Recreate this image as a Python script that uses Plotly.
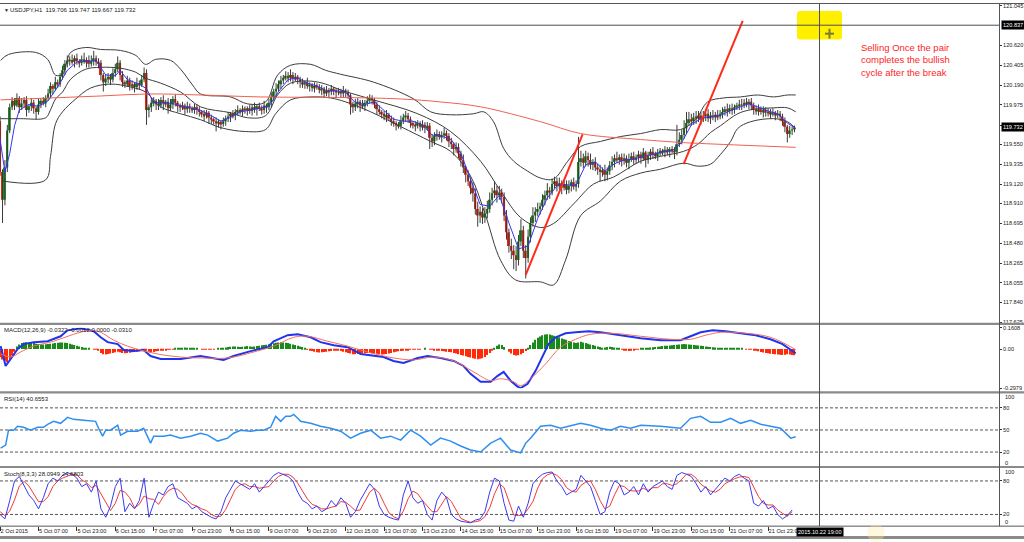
import plotly.graph_objects as go

W, H = 1024, 542

# ---------------- text ----------------
title_text = "USDJPY,H1  119.706 119.747 119.667 119.732"
macd_title = "MACD(12,26,9) -0.0322 -0.0012 0.0000 -0.0310"
rsi_title = "RSI(14) 40.6553"
stoch_title = "Stoch(8,3,3) 28.0949 24.6803"
note_lines = ["Selling Once the pair", "completes the bullish", "cycle after the break"]
cursor_time_label = "2015.10.22 19:00"

time_labels = ["2 Oct 2015", "5 Oct 07:00", "5 Oct 23:00", "6 Oct 15:00", "7 Oct 07:00",
               "7 Oct 23:00", "8 Oct 15:00", "9 Oct 07:00", "9 Oct 23:00", "12 Oct 15:00",
               "13 Oct 07:00", "13 Oct 23:00", "14 Oct 15:00", "15 Oct 07:00", "15 Oct 23:00",
               "16 Oct 15:00", "19 Oct 07:00", "19 Oct 23:00", "20 Oct 15:00", "21 Oct 07:00",
               "21 Oct 23:00"]
bars_per_label = 16

price_ticks = [121.045, 120.620, 120.405, 120.190, 119.975, 119.755, 119.550, 119.335,
               119.120, 118.910, 118.695, 118.480, 118.265, 118.055, 117.840, 117.625]
price_range = [117.6143, 121.0717]
cursor_price = 120.837
last_price = 119.732

# ---------------- H1 candles ----------------
first_open = 119.80
closes = [
    119.25, 118.95, 119.30, 119.70, 119.95,
    120.02, 119.97, 120.05, 119.95, 119.99, 120.03, 119.92, 119.96, 120.00, 119.94, 119.90, 119.98, 120.02, 119.99,
    120.05, 120.10, 120.18, 120.15, 120.22, 120.20, 120.28,
    120.35, 120.42, 120.45,
    120.46, 120.44, 120.48, 120.45, 120.43, 120.47, 120.44, 120.46, 120.42, 120.45, 120.48, 120.44, 120.43,
    120.30, 120.22, 120.26,
    120.28, 120.25, 120.32, 120.36,
    120.43,
    120.30, 120.22, 120.20,
    120.24, 120.18, 120.20, 120.17, 120.21, 120.19,
    120.25, 120.32,
    119.92,
    119.95, 120.00,
    120.02, 119.98, 119.97, 120.03, 119.99, 120.01, 119.94, 119.98, 120.04, 120.00, 119.96,
    119.95, 119.97, 119.93, 119.96, 119.94, 119.92, 119.95, 119.93,
    119.90, 119.88, 119.86, 119.89, 119.84, 119.82, 119.80, 119.78, 119.79,
    119.77, 119.80, 119.83, 119.85, 119.88, 119.86, 119.90, 119.92, 119.90, 119.93,
    119.92, 119.94, 119.91, 119.95, 119.93, 119.96, 119.94, 119.92, 119.97, 119.95,
    120.00, 120.06, 120.12, 120.15, 120.20, 120.24, 120.27,
    120.29, 120.27, 120.30, 120.26, 120.28, 120.25,
    120.22, 120.20, 120.22, 120.18, 120.19, 120.16, 120.18, 120.17,
    120.14, 120.15, 120.10, 120.13, 120.12, 120.15, 120.13, 120.11,
    120.12, 120.10, 120.13, 120.11, 120.08,
    119.98,
    119.95, 119.99, 120.01, 119.97, 119.96, 120.00, 120.02, 120.05, 120.03,
    119.98, 119.93, 119.90, 119.88, 119.85, 119.87, 119.83, 119.80, 119.78, 119.76, 119.75,
    119.80, 119.84, 119.86, 119.82,
    119.78, 119.76, 119.75, 119.78, 119.74, 119.76, 119.73, 119.75,
    119.62, 119.58,
    119.64, 119.66, 119.63, 119.65, 119.67, 119.64,
    119.58, 119.55, 119.50, 119.52,
    119.45, 119.38, 119.30, 119.22, 119.15, 119.08, 119.02,
    118.85, 118.78,
    118.82, 118.76, 118.80, 118.85,
    118.95, 119.02, 119.05, 119.00,
    119.03, 118.98,
    118.78, 118.60, 118.45,
    118.40, 118.35, 118.30,
    118.50, 118.62,
    118.40, 118.32,
    118.55, 118.70, 118.78, 118.82, 118.85, 118.88,
    118.95, 119.00, 119.05, 119.03,
    119.12, 119.15,
    119.10, 119.13, 119.08, 119.12, 119.06, 119.10, 119.14, 119.09, 119.12,
    119.36,
    119.40, 119.35, 119.42, 119.38, 119.33, 119.36, 119.30,
    119.28, 119.25, 119.27, 119.22, 119.26,
    119.32, 119.36, 119.40, 119.38, 119.41,
    119.37, 119.40, 119.35, 119.39, 119.42, 119.38, 119.41,
    119.44, 119.40, 119.46, 119.38, 119.43, 119.47, 119.45, 119.42, 119.46,
    119.48, 119.46, 119.49, 119.47, 119.50, 119.48, 119.47,
    119.55, 119.60,
    119.65, 119.72, 119.78, 119.82, 119.80, 119.84, 119.83,
    119.86, 119.82, 119.85, 119.88, 119.83, 119.86, 119.84, 119.87, 119.85,
    119.88, 119.90, 119.93, 119.91, 119.94, 119.92, 119.95, 119.96,
    119.98, 119.97, 120.00, 119.99, 120.01, 119.97,
    119.93, 119.91, 119.93, 119.90, 119.92, 119.89,
    119.90, 119.88, 119.89, 119.87, 119.88, 119.85,
    119.80, 119.74, 119.66, 119.70, 119.71, 119.732,
]
upper_wick_pips = [
    5, 3, 8, 6, 4,
    4, 3, 5, 2, 6, 3, 4, 2, 5, 3, 2, 6, 3, 4,
    3, 5, 4, 2, 6, 3, 4,
    5, 4, 6,
    4, 6, 3, 5, 2, 4, 7, 3, 5, 6, 8, 3, 4,
    3, 2, 5,
    4, 3, 5, 6,
    7,
    3, 4, 2,
    5, 3, 4, 2, 6, 3,
    5, 6,
    4,
    3, 5,
    4, 2, 6, 3, 5, 2, 4, 6, 3, 5, 2,
    3, 4, 2, 5, 3, 2, 4, 3,
    3, 2, 4, 3, 2, 3, 2, 4, 3,
    2, 4, 3, 5, 2, 4, 3, 5, 2, 4,
    3, 2, 4, 3, 5, 2, 4, 3, 5, 2,
    4, 5, 3, 6, 4, 5, 3,
    5, 4, 6, 3, 4, 2,
    3, 4, 2, 5, 3, 2, 4, 3,
    3, 4, 2, 5, 3, 4, 2, 3,
    4, 3, 5, 2, 3,
    2,
    3, 5, 4, 2, 6, 3, 5, 4, 3,
    2, 3, 4, 2, 3, 5, 2, 3, 4, 2, 3,
    6, 4, 5, 3,
    3, 2, 4, 3, 2, 5, 3, 4,
    3, 4,
    4, 5, 3, 4, 6, 3,
    3, 4, 2, 5,
    4, 3, 6, 2, 5, 4, 6,
    5, 8,
    6, 4, 7, 9,
    8, 6, 10, 5,
    7, 4,
    5, 6, 4,
    8, 6, 10,
    7, 12,
    5, 6,
    8, 6, 9, 5, 7, 4,
    6, 5, 8, 4,
    6, 5,
    4, 6, 3, 5, 4, 6, 3, 5, 4,
    27,
    8, 5, 6, 4, 7, 3, 5,
    4, 5, 3, 6, 4,
    5, 6, 4, 7, 3,
    4, 5, 3, 6, 4, 5, 3,
    4, 3, 5, 2, 4, 3, 5, 2, 4,
    3, 2, 4, 3, 2, 3, 4,
    21, 8,
    6, 9, 12, 8, 6, 5, 7,
    5, 4, 6, 3, 5, 4, 6, 3, 5,
    4, 5, 3, 6, 4, 5, 3, 4,
    5, 6, 4, 5, 3, 4,
    3, 4, 5, 3, 4, 3,
    4, 3, 5, 2, 4, 3,
    3, 4, 2, 5, 3, 2,
]
lower_wick_pips = [
    4, 25, 6, 5, 3,
    3, 5, 2, 6, 3, 4, 7, 3, 5, 6, 8, 3, 4, 2,
    4, 3, 5, 6, 2, 4, 3,
    3, 5, 4,
    5, 3, 6, 4, 5, 3, 2, 6, 4, 3, 5, 4, 6,
    6, 10, 4,
    5, 6, 3, 4,
    3,
    6, 5, 4,
    3, 5, 4, 6, 3, 5,
    2, 3,
    16,
    8, 5,
    4, 6, 5, 3, 7, 4, 6, 3, 5, 4, 6,
    5, 3, 6, 4, 5, 3, 4, 6,
    5, 4, 6, 3, 7, 5, 4, 9, 5,
    6, 3, 5, 4, 6, 3, 5, 4, 3, 5,
    4, 6, 3, 5, 4, 7, 3, 5, 4, 6,
    3, 5, 4, 6, 3, 5, 4,
    3, 5, 4, 6, 3, 5,
    6, 4, 5, 3, 6, 4, 5, 3,
    4, 6, 5, 3, 7, 4, 5, 6,
    3, 5, 4, 6, 4,
    11,
    6, 4, 5, 7, 3, 5, 4, 3, 5,
    4, 6, 3, 5, 4, 6, 3, 5, 4, 6, 3,
    4, 3, 5, 4,
    5, 4, 6, 3, 5, 4, 6, 3,
    12, 6,
    4, 5, 3, 6, 4, 5,
    6, 5, 7, 4,
    5, 7, 6, 8, 5, 7, 9,
    6, 12,
    8, 7, 6, 5,
    4, 6, 5, 8,
    5, 7,
    6, 8, 7,
    9, 15, 12,
    6, 5,
    8, 22,
    5, 6, 4, 7, 5, 6,
    4, 6, 5, 7,
    3, 5,
    6, 4, 7, 3, 5, 4, 6, 3, 5,
    4,
    5, 6, 4, 7, 5, 6, 4,
    6, 10, 5, 7, 6,
    4, 5, 6, 3, 5,
    6, 4, 5, 7, 3, 5, 4,
    5, 6, 3, 8, 4, 5, 6, 3, 5,
    4, 3, 5, 4, 6, 3, 8,
    4, 3,
    5, 4, 6, 3, 5, 4, 6,
    4, 6, 3, 5, 4, 6, 3, 5, 4,
    3, 5, 4, 6, 3, 5, 4, 3,
    4, 5, 3, 4, 6, 5,
    6, 4, 5, 3, 6, 4,
    4, 5, 3, 6, 4, 5,
    5, 6, 9, 4, 5, 3,
]

# ---------------- overlays on price (bar index, price) ----------------
fast_ma_bars = [0, 2, 4, 6, 8, 12, 16, 20, 24, 28, 32, 36, 40, 44, 48, 50, 53, 58, 61, 64, 68, 72, 76, 80, 84,
                88, 92, 96, 100, 104, 108, 112, 116, 120, 124, 128, 132, 136, 140, 144, 148, 152, 156, 160,
                164, 168, 172, 176, 180, 184, 188, 192, 196, 200, 204, 208, 212, 216, 220, 224, 228, 232,
                236, 240, 244, 248, 252, 256, 260, 264, 268, 272, 276, 280, 284, 288, 292, 296, 300, 304,
                308, 312, 316, 320, 324, 328, 331]
fast_ma = [119.60, 119.25, 119.45, 119.75, 119.92, 119.98, 119.96, 120.02, 120.17, 120.35, 120.44, 120.45,
           120.45, 120.30, 120.29, 120.35, 120.25, 120.20, 120.15, 120.00, 120.00, 119.99, 119.96, 119.94,
           119.91, 119.86, 119.80, 119.84, 119.90, 119.92, 119.94, 119.96, 120.12, 120.25, 120.27, 120.21,
           120.18, 120.13, 120.13, 120.11, 120.00, 119.98, 120.01, 119.91, 119.82, 119.80, 119.80, 119.76,
           119.65, 119.64, 119.60, 119.45, 119.18, 118.90, 118.88, 119.00, 118.70, 118.42, 118.45, 118.75,
           118.97, 119.10, 119.11, 119.11, 119.33, 119.36, 119.26, 119.34, 119.38, 119.39, 119.42, 119.44,
           119.47, 119.48, 119.57, 119.76, 119.83, 119.85, 119.86, 119.91, 119.95, 119.99, 119.95, 119.91,
           119.88, 119.78, 119.73]

slow_ma_bars = [0.2, 21, 41.9, 61.5, 83.5, 108.5, 141.9, 166.9, 183.5, 200.2, 225.2, 241.9, 266.9, 283.5, 291.9, 331.5]
slow_ma = [120.030, 120.051, 120.072, 120.094, 120.083, 120.062, 120.056, 120.040, 120.008, 119.955,
           119.794, 119.666, 119.602, 119.570, 119.559, 119.517]

band_up_bars = [0.2, 3.5, 14.8, 19.8, 23.1, 26, 29.4, 35.6, 41.9, 50.2, 56.5, 60.6, 64.8, 71, 75.2, 80.2, 83.5,
                96, 103.1, 110.6, 115.6, 121, 129.4, 135.6, 141.9, 155.6, 172.3, 179.4, 187.7, 197.3, 201.5,
                205.6, 209.8, 214, 219.8, 225.2, 230.6, 236.5, 241.9, 250.2, 258.5, 266.9, 275.2, 283.5,
                289.8, 294.8, 301.5, 308.5, 315.6, 322.3, 328.1, 331.5]
band_up = [120.457, 120.521, 120.543, 120.468, 120.297, 120.307, 120.543, 120.596, 120.575, 120.564, 120.511,
           120.414, 120.468, 120.457, 120.361, 120.190, 120.094, 120.062, 119.987, 120.008, 120.297, 120.404,
           120.414, 120.350, 120.307, 120.222, 120.040, 119.901, 119.869, 119.880, 119.901, 119.794, 119.506,
           119.367, 119.260, 119.185, 119.175, 119.367, 119.527, 119.581, 119.634, 119.666, 119.709, 119.709,
           119.816, 120.008, 120.051, 120.062, 120.083, 120.062, 120.083, 120.083]

band_mid_bars = [0.2, 8.5, 19, 21, 23.1, 26, 29.4, 35.6, 41.9, 50.2, 56.5, 60.6, 66.9, 75.2, 83.5, 96, 103.1,
                 110.6, 115.6, 121, 129.4, 135.6, 141.9, 155.6, 174, 187.7, 200.2, 208.5, 216.9, 225.2, 230.6,
                 239, 247.3, 255.6, 266.9, 275.2, 284.8, 290.6, 296, 300.2, 307.3, 312.7, 322.3, 328.1, 331.5]
band_mid = [119.827, 119.827, 119.837, 119.923, 120.040, 120.115, 120.254, 120.361, 120.382, 120.372, 120.329,
            120.265, 120.211, 120.115, 119.955, 119.891, 119.837, 119.859, 120.083, 120.211, 120.233, 120.201,
            120.137, 120.030, 119.880, 119.688, 119.367, 119.047, 118.758, 118.651, 118.694, 118.907, 119.121,
            119.196, 119.367, 119.420, 119.474, 119.549, 119.677, 119.752, 119.880, 119.923, 119.944, 119.944,
            119.901]

band_lo_bars = [1, 18.9, 21, 23.1, 26, 31.5, 37.7, 46, 54.4, 60.6, 66.9, 75.2, 83.5, 91.9, 102.3, 110.6, 114.8,
                121, 129.4, 137.7, 144, 154.4, 166.9, 179.4, 187.7, 196, 202.3, 208.5, 214.8, 225.2, 230.6,
                235.6, 241.9, 250.2, 258.5, 266.9, 275.2, 284.8, 290.6, 296.0, 300.2, 304.4, 307.3, 312.7,
                322.3, 328.1, 331.5]
band_lo = [119.153, 119.164, 119.420, 119.773, 119.901, 120.040, 120.158, 120.201, 120.169, 120.115, 119.955,
           119.880, 119.816, 119.730, 119.688, 119.709, 119.880, 120.030, 120.062, 120.051, 120.008, 119.901,
           119.741, 119.581, 119.474, 119.207, 118.779, 118.298, 118.084, 118.063, 118.031, 118.298, 118.779,
           118.939, 119.153, 119.239, 119.281, 119.346, 119.314, 119.335, 119.442, 119.581, 119.720, 119.794,
           119.827, 119.794, 119.720]

trend1_bars = [219.0, 242.7]
trend1_prices = [118.138, 119.656]
trend2_bars = [284.8, 309.4]
trend2_prices = [119.335, 120.885]

# ---------------- MACD ----------------
macd_hist = [
    -0.06, -0.08, -0.09, -0.10, -0.08, -0.05, -0.02,
    0.02, 0.035, 0.045, 0.05, 0.052, 0.05, 0.048, 0.045, 0.04, 0.038,
    0.036, 0.035, 0.036, 0.038, 0.04, 0.042, 0.045, 0.048, 0.05, 0.05,
    0.048, 0.045, 0.04, 0.035, 0.03, 0.025, 0.02, 0.015, 0.01, 0.005,
    0.003, 0.0, -0.003, -0.005, -0.01,
    -0.03, -0.04, -0.042, -0.038, -0.035, -0.03, -0.025, -0.02, -0.025, -0.03,
    -0.032, -0.03, -0.028, -0.025, -0.022, -0.02, -0.018, -0.015, -0.01, -0.012,
    -0.02, -0.025,
    -0.022, -0.018, -0.015, -0.012, -0.01, -0.008, -0.006, -0.004, -0.003,
    0.003, 0.005, 0.008, 0.01, 0.012, 0.01, 0.008, 0.005, 0.003, 0.002,
    0.0, -0.002, -0.004, -0.006, -0.005, -0.004, -0.002, 0.0, 0.002, 0.005,
    0.008, 0.012, 0.015, 0.018, 0.02, 0.02, 0.018, 0.016,
    0.018, 0.02, 0.022, 0.02, 0.018, 0.02, 0.022, 0.025, 0.028, 0.03,
    0.033, 0.036, 0.04, 0.044, 0.048, 0.05, 0.052, 0.05, 0.048, 0.045,
    0.04, 0.035, 0.03, 0.025, 0.02, 0.015, 0.01,
    -0.005, -0.01, -0.015, -0.02, -0.024, -0.026, -0.025, -0.022, -0.02, -0.018,
    -0.015, -0.012, -0.01, -0.012, -0.015, -0.02, -0.025,
    -0.03, -0.035, -0.04, -0.04, -0.038, -0.036, -0.035, -0.032, -0.03, -0.03,
    -0.032, -0.035, -0.037, -0.04, -0.042, -0.04, -0.038, -0.035, -0.03, -0.025,
    -0.02, -0.018, -0.015, -0.012, -0.01, -0.008, -0.006, -0.005, -0.004, -0.003,
    -0.002,
    0.0, 0.002, 0.0, -0.002, -0.005, -0.008, -0.01, -0.012,
    -0.015, -0.018, -0.02, -0.022, -0.025, -0.03, -0.035, -0.04, -0.045, -0.05,
    -0.055, -0.06, -0.065, -0.07, -0.075, -0.078, -0.075, -0.07, -0.06, -0.045,
    -0.03, -0.01, 0.01,
    0.025, 0.035, 0.03, 0.015, 0.0,
    -0.02, -0.035, -0.045, -0.05, -0.048, -0.04, -0.03,
    -0.015, 0.005, 0.03, 0.05, 0.07, 0.085, 0.095, 0.105, 0.11, 0.112,
    0.11, 0.105, 0.1, 0.095, 0.09, 0.08, 0.075, 0.07, 0.06, 0.055,
    0.05, 0.045, 0.05,
    0.055, 0.05, 0.045, 0.04, 0.035, 0.03, 0.025, 0.02, 0.015,
    0.01, 0.012, 0.015, 0.018, 0.015, 0.012, 0.01, 0.006,
    -0.005, -0.01, -0.012, -0.015, -0.012, -0.01, -0.006, -0.003,
    0.002, 0.005, 0.008, 0.01, 0.012, 0.014, 0.016, 0.018, 0.02, 0.022,
    0.024, 0.025, 0.026, 0.028, 0.03, 0.032, 0.035, 0.037, 0.038, 0.036,
    0.034, 0.032, 0.03, 0.028, 0.026, 0.024, 0.022, 0.02, 0.018, 0.016,
    0.014, 0.012, 0.01, 0.008,
    0.006, 0.005, 0.006, 0.008, 0.01, 0.008, 0.006, 0.004, 0.002, 0.0,
    -0.002, -0.004,
    -0.006, -0.01, -0.014, -0.018, -0.022, -0.026, -0.03, -0.033, -0.036, -0.038,
    -0.04, -0.042, -0.044, -0.045, -0.043, -0.04, -0.042, -0.045, -0.047,
]
macd_bars = [0.2, 2.3, 4.4, 7.3, 9.8, 14, 19.8, 25.2, 28.1, 33.5, 39, 41.9, 44.8, 49, 51.5, 55.6, 59.8, 62.7,
             66.9, 75.2, 83.5, 88.9, 93.1, 97.3, 104.4, 111.5, 114, 119.8, 124, 129.4, 133.5, 139, 144.8,
             150.2, 155.6, 159.8, 163.9, 168.1, 174, 178.1, 183.5, 189, 193.1, 196, 200.2, 204.4, 207.3,
             209.8, 212.7, 215.6, 216.9, 219.8, 223.1, 226, 228.5, 231.5, 235.6, 239.8, 245.2, 250.2, 255.2,
             260.6, 266.9, 275.2, 283.5, 287.7, 291.9, 296.9, 302.3, 308.5, 314.8, 321, 326, 331.5]
macd_main = [0.022, -0.129, -0.076, 0.0, 0.037, 0.052, 0.059, 0.097, 0.142, 0.157, 0.135, 0.089, 0.052, 0.037,
             -0.008, -0.016, -0.008, -0.053, -0.076, -0.076, -0.053, -0.068, -0.083, -0.053, -0.016, 0.014,
             0.059, 0.105, 0.112, 0.089, 0.052, 0.029, 0.014, -0.038, -0.053, -0.061, -0.091, -0.106, -0.068,
             -0.053, -0.068, -0.091, -0.129, -0.189, -0.249, -0.249, -0.204, -0.174, -0.241, -0.286, -0.297,
             -0.264, -0.166, -0.061, 0.037, 0.089, 0.120, 0.127, 0.135, 0.127, 0.112, 0.097, 0.082, 0.067,
             0.067, 0.097, 0.127, 0.142, 0.135, 0.120, 0.105, 0.074, 0.037, -0.032]
signal_bars = [0.2, 4.4, 8.5, 14, 22.3, 30.6, 37.7, 41.9, 47.3, 53.1, 58.5, 65.6, 75.2, 83.5, 94.8, 105.6, 114,
               122.3, 128.1, 136.5, 144.8, 153.1, 164, 172.3, 180.6, 189, 197.3, 204.4, 208.5, 214, 216.9,
               221, 227.3, 233.5, 239.8, 246, 254.4, 266.9, 279.4, 287.7, 294, 300.2, 310.6, 321, 331.5]
macd_signal = [-0.038, -0.061, -0.023, 0.022, 0.059, 0.112, 0.142, 0.127, 0.067, 0.022, -0.008, -0.038,
               -0.061, -0.068, -0.068, -0.023, 0.022, 0.089, 0.097, 0.059, 0.022, -0.023, -0.068, -0.083,
               -0.061, -0.091, -0.174, -0.241, -0.226, -0.249, -0.279, -0.226, -0.113, 0.014, 0.074, 0.112,
               0.120, 0.097, 0.074, 0.074, 0.105, 0.127, 0.120, 0.089, -0.005]
macd_range = [-0.2979, 0.1608]

# ---------------- RSI ----------------
rsi_bars = [0.2, 2.3, 3.5, 5.6, 7.3, 9.8, 12.7, 15.6, 18.1, 19.8, 22.3, 25.2, 28.1, 30.6, 34.8, 37.7, 39.8,
            41, 42.7, 44, 46, 49, 50.2, 53.1, 57.3, 59.8, 62.7, 64, 68.1, 71, 75.2, 79.4, 83.5, 86.5, 90.6,
            94.8, 97.3, 100.2, 104.4, 107.3, 109.8, 112.7, 114.8, 116.9, 119, 121, 122.3, 124, 125.2, 129.4,
            133.5, 137.7, 141.9, 146, 150.2, 154.4, 158.5, 162.7, 166.9, 171, 175.2, 179.4, 183.5, 187.7,
            191.9, 196, 200.2, 204.4, 208.5, 212.7, 216.9, 219, 221, 225.2, 229.4, 233.5, 241.9, 246, 250.2,
            254.4, 258.5, 262.7, 266.9, 275.2, 283.5, 287.7, 291.9, 296, 300.2, 304.4, 308.5, 312.7, 316.9,
            321, 325.2, 329.4, 331.5]
rsi_vals = [25.5, 29.5, 49.7, 49.7, 55, 53.7, 49.7, 53.7, 53.7, 57.7, 61.7, 59, 67.1, 64.4, 63.1, 61.7, 61.7,
            52.3, 41.6, 49.7, 49.7, 56.4, 43, 48.3, 48.3, 52.3, 32.2, 41.6, 41.6, 43, 38.9, 41.6, 45.6, 43,
            34.9, 38.9, 45.6, 49.7, 48.3, 49.7, 49.7, 53.7, 68.5, 61.7, 68.5, 68.5, 71.1, 65.8, 61.7, 59, 55,
            52.3, 48.3, 38.9, 45.6, 49.7, 38.9, 41.6, 36.2, 49.7, 41.6, 29.5, 38.9, 34.9, 28.2, 22.8, 20.1,
            32.2, 38.9, 22.8, 18.8, 32.2, 38.9, 55, 56.4, 52.3, 59, 56.4, 52.3, 49.7, 55, 52.3, 56.4, 55, 52.3,
            65.8, 68.5, 60.4, 60.4, 65.8, 59, 63.1, 57.7, 55, 52.3, 38.9, 40.7]
rsi_levels = [80, 50, 20]

# ---------------- Stochastic (one value per 2 bars) ----------------
stoch_main = [20, 12, 45, 80, 88, 70,
              55, 45, 30, 50, 75,
              85, 80, 90, 95, 92,
              85, 70, 75, 60, 80,
              30, 15, 35, 70, 85,
              25, 40, 30, 45, 85,
              15, 40, 60, 55, 70,
              75, 50, 45, 40, 30,
              35, 25, 20, 15, 12,
              25, 50, 65, 80, 75,
              70, 65, 75, 60, 70,
              80, 90, 95, 92, 88,
              80, 60, 45, 40, 30,
              35, 25, 30, 45, 35,
              50, 40, 15, 25, 45,
              60, 75, 65, 35, 20,
              15, 12, 10, 55, 80,
              50, 40, 45, 20, 10,
              45, 60, 50, 20, 12,
              8, 6, 5, 10, 12,
              25, 60, 85, 80, 40,
              10, 8, 35, 15, 40,
              75, 85, 92, 95, 96,
              80, 70, 55, 60, 65,
              90, 80, 70, 45, 20,
              25, 60, 80, 75, 55,
              60, 70, 55, 75, 60,
              70, 75, 80, 70, 65,
              90, 95, 92, 88, 75,
              60, 70, 55, 65, 75,
              85, 80, 88, 92, 85,
              80, 40, 35, 45, 30,
              35, 20, 12, 18, 28]
stoch_signal = [25, 18, 26, 46, 71, 79,
                71, 57, 43, 43, 52,
                70, 80, 85, 88, 92,
                91, 82, 77, 68, 72,
                57, 42, 27, 40, 63,
                60, 50, 32, 38, 53,
                48, 47, 38, 52, 62,
                67, 65, 57, 45, 38,
                35, 30, 27, 20, 16,
                17, 29, 47, 65, 73,
                75, 70, 70, 67, 68,
                70, 80, 88, 92, 92,
                87, 76, 62, 48, 38,
                35, 30, 30, 33, 35,
                43, 42, 35, 27, 28,
                43, 60, 67, 58, 40,
                23, 16, 12, 26, 48,
                62, 57, 45, 35, 25,
                25, 38, 52, 43, 27,
                13, 9, 6, 7, 9,
                16, 32, 57, 75, 68,
                43, 19, 18, 19, 30,
                43, 67, 84, 91, 94,
                90, 82, 68, 62, 60,
                72, 78, 80, 65, 45,
                30, 35, 55, 72, 70,
                63, 62, 62, 67, 63,
                68, 68, 75, 75, 72,
                75, 83, 92, 92, 85,
                74, 68, 62, 60, 65,
                75, 80, 84, 87, 88,
                86, 68, 52, 40, 37,
                37, 28, 22, 17, 25]
stoch_levels = [80, 20]
bars_per_stoch_point = 2

# ---------------- styles ----------------
C_BULL = "#1a8a1a"
C_BEAR = "#e8220f"
C_WICK = "#3a3a3a"
C_BAND = "#3c3c3c"
C_FAST = "#3535f0"
C_SLOW = "#f0604e"
C_TREND = "#ff2a1a"
C_MACD = "#2233ee"
C_SIG = "#f07060"
C_RSI = "#2f8ff0"
C_STO_M = "#3a3af0"
C_STO_S = "#f03a3a"
FONT = "Liberation Sans"


def fy(ypx):
    return 1 - ypx / H


def fx(xpx):
    return xpx / W


# ---------------- build candles ----------------
n = min(len(closes), len(upper_wick_pips), len(lower_wick_pips))
opens = [first_open] + closes[:-1]
bar_idx = list(range(n))
highs = [max(opens[i], closes[i]) + upper_wick_pips[i] / 100 for i in range(n)]
lows = [min(opens[i], closes[i]) - lower_wick_pips[i] / 100 for i in range(n)]

wx, wy = [], []
for i in range(n):
    wx += [i, i, None]
    wy += [lows[i], highs[i], None]

body_base = [min(opens[i], closes[i]) for i in range(n)]
body_h = [max(abs(closes[i] - opens[i]), 0.006) for i in range(n)]
body_col = [C_BULL if closes[i] >= opens[i] else C_BEAR for i in range(n)]

fig = go.Figure()

fig.add_trace(go.Scatter(x=wx, y=wy, mode="lines", line=dict(color=C_WICK, width=1),
                         xaxis="x", yaxis="y", hoverinfo="skip"))
fig.add_trace(go.Bar(x=bar_idx, y=body_h, base=body_base, width=0.8,
                     marker=dict(color=body_col, line=dict(width=0)), xaxis="x", yaxis="y"))
for bx, by in [(band_up_bars, band_up), (band_mid_bars, band_mid), (band_lo_bars, band_lo)]:
    fig.add_trace(go.Scatter(x=bx, y=by, mode="lines", line=dict(color=C_BAND, width=1),
                             line_shape="spline", xaxis="x", yaxis="y"))
fig.add_trace(go.Scatter(x=slow_ma_bars, y=slow_ma, mode="lines", line=dict(color=C_SLOW, width=1),
                         line_shape="spline", xaxis="x", yaxis="y"))
fig.add_trace(go.Scatter(x=fast_ma_bars, y=fast_ma, mode="lines", line=dict(color=C_FAST, width=1),
                         xaxis="x", yaxis="y"))
fig.add_trace(go.Scatter(x=trend1_bars, y=trend1_prices, mode="lines", line=dict(color=C_TREND, width=2),
                         xaxis="x", yaxis="y"))
fig.add_trace(go.Scatter(x=trend2_bars, y=trend2_prices, mode="lines", line=dict(color=C_TREND, width=2),
                         xaxis="x", yaxis="y"))

hist_col = [C_BULL if v >= 0 else "#ff2a0a" for v in macd_hist]
fig.add_trace(go.Bar(x=list(range(len(macd_hist))), y=macd_hist, width=0.5,
                     marker=dict(color=hist_col, line=dict(width=0)), xaxis="x2", yaxis="y2"))
fig.add_trace(go.Scatter(x=macd_bars, y=macd_main, mode="lines", line=dict(color=C_MACD, width=2),
                         xaxis="x2", yaxis="y2"))
fig.add_trace(go.Scatter(x=signal_bars, y=macd_signal, mode="lines", line=dict(color=C_SIG, width=1),
                         line_shape="spline", xaxis="x2", yaxis="y2"))

fig.add_trace(go.Scatter(x=rsi_bars, y=rsi_vals, mode="lines", line=dict(color=C_RSI, width=1.5),
                         xaxis="x3", yaxis="y3"))

sx_main = [k * bars_per_stoch_point for k in range(len(stoch_main))]
sx_sig = [k * bars_per_stoch_point for k in range(len(stoch_signal))]
fig.add_trace(go.Scatter(x=sx_sig, y=stoch_signal, mode="lines", line=dict(color=C_STO_S, width=1),
                         xaxis="x4", yaxis="y4"))
fig.add_trace(go.Scatter(x=sx_main, y=stoch_main, mode="lines", line=dict(color=C_STO_M, width=1),
                         xaxis="x4", yaxis="y4"))

# ---------------- axes ----------------
x_range = [-0.05, 999.0 / 2.4 - 0.05]
x_dom = [0, 999 / W]
common_x = dict(range=x_range, domain=x_dom, showgrid=False, zeroline=False, showline=False,
                fixedrange=True)
tick_font = dict(family=FONT, size=5.6, color="#202020")
common_y = dict(side="right", showgrid=False, zeroline=False, showline=False, ticks="outside",
                ticklen=2, tickwidth=1, tickcolor="#333", tickfont=tick_font, fixedrange=True,
                ticklabelstandoff=0)

fig.update_layout(
    xaxis=dict(**common_x, anchor="y", showticklabels=False, ticks=""),
    xaxis2=dict(**common_x, anchor="y2", matches="x", showticklabels=False, ticks=""),
    xaxis3=dict(**common_x, anchor="y3", matches="x", showticklabels=False, ticks=""),
    xaxis4=dict(**common_x, anchor="y4", matches="x", ticks="outside", ticklen=4, tickcolor="#333",
                tickvals=[k * bars_per_label for k in range(len(time_labels))], ticktext=time_labels,
                tickfont=tick_font, ticklabelposition="outside right", tickangle=0),
    yaxis=dict(**common_y, anchor="x", domain=[fy(324), fy(0.5)], range=price_range,
               tickvals=price_ticks, ticktext=[f"{v:.3f}" for v in price_ticks]),
    yaxis2=dict(**common_y, anchor="x2", domain=[fy(389.5), fy(328.5)], range=macd_range,
                tickvals=[macd_range[1], 0, macd_range[0]],
                ticktext=[f"{macd_range[1]:.4f}", "0.00", f"{macd_range[0]:.4f}"]),
    yaxis3=dict(**common_y, anchor="x3", domain=[fy(469), fy(394.5)], range=[0, 100],
                tickvals=rsi_levels, ticktext=[str(v) for v in rsi_levels]),
    yaxis4=dict(**common_y, anchor="x4", domain=[fy(528.5), fy(472)], range=[0, 100],
                tickvals=stoch_levels, ticktext=[str(v) for v in stoch_levels]),
    width=W, height=H, margin=dict(l=0, r=0, t=0, b=0), autosize=False,
    paper_bgcolor="white", plot_bgcolor="white", showlegend=False, barmode="overlay",
    hovermode=False,
)

# ---------------- shapes ----------------
shapes = []
for v in rsi_levels:
    shapes.append(dict(type="line", xref="paper", x0=0, x1=999 / W, yref="y3", y0=v, y1=v,
                       line=dict(color="#555", width=1, dash="3px,2px"), layer="below"))
for v in stoch_levels:
    shapes.append(dict(type="line", xref="paper", x0=0, x1=999 / W, yref="y4", y0=v, y1=v,
                       line=dict(color="#555", width=1, dash="3px,2px"), layer="below"))
for (y0, y1) in [(323.3, 325.6), (392.6, 394.8), (468.3, 470.3), (539.0, 542)]:
    shapes.append(dict(type="rect", xref="paper", yref="paper", x0=0, x1=1, y0=fy(y1), y1=fy(y0),
                       fillcolor="#8a8a8a", line=dict(width=0), layer="above"))
shapes.append(dict(type="line", xref="paper", yref="paper", x0=0, x1=1, y0=fy(0.5), y1=fy(0.5),
                   line=dict(color="#555", width=1)))
shapes.append(dict(type="line", xref="paper", yref="paper", x0=0, x1=1, y0=fy(529), y1=fy(529),
                   line=dict(color="#555", width=1)))
shapes.append(dict(type="line", xref="paper", yref="paper", x0=fx(999.5), x1=fx(999.5), y0=fy(529), y1=fy(0),
                   line=dict(color="#555", width=1)))
shapes.append(dict(type="path", xref="paper", yref="paper",
                   path=(f"M {fx(800)},{fy(8)} L {fx(839)},{fy(8)} Q {fx(842)},{fy(8)} {fx(842)},{fy(11)} "
                         f"L {fx(842)},{fy(34)} Q {fx(842)},{fy(37)} {fx(839)},{fy(37)} L {fx(800)},{fy(37)} "
                         f"Q {fx(797)},{fy(37)} {fx(797)},{fy(34)} L {fx(797)},{fy(11)} Q {fx(797)},{fy(8)} "
                         f"{fx(800)},{fy(8)} Z"),
                   fillcolor="#fff000", line=dict(width=0), layer="above"))
shapes.append(dict(type="circle", xref="paper", yref="paper", x0=fx(867), x1=fx(885), y0=fy(545), y1=fy(527),
                   fillcolor="rgba(255,236,170,0.35)", line=dict(width=0), layer="above"))
shapes.append(dict(type="line", xref="paper", yref="paper", x0=fx(819.5), x1=fx(819.5), y0=fy(529), y1=fy(0),
                   line=dict(color="#505050", width=1), layer="above"))
shapes.append(dict(type="line", xref="paper", yref="y", x0=0, x1=fx(999.5), y0=cursor_price, y1=cursor_price,
                   line=dict(color="#505050", width=1), layer="above"))
shapes.append(dict(type="line", xref="paper", yref="paper", x0=fx(825), x1=fx(834), y0=fy(31), y1=fy(31),
                   line=dict(color="#7a7a3a", width=2), layer="above"))
shapes.append(dict(type="line", xref="paper", yref="paper", x0=fx(829.5), x1=fx(829.5), y0=fy(36), y1=fy(26),
                   line=dict(color="#7a7a3a", width=2), layer="above"))
fig.update_layout(shapes=shapes)

# ---------------- annotations ----------------
ann = []
small = dict(family=FONT, size=6, color="#202020")
ann.append(dict(xref="paper", yref="paper", x=fx(2), y=fy(7), xanchor="left", yanchor="middle",
                text="\u25bc", showarrow=False, font=dict(family=FONT, size=5, color="#202020")))
ann.append(dict(xref="paper", yref="paper", x=fx(8), y=fy(7), xanchor="left", yanchor="middle",
                text=title_text, showarrow=False, font=small))
ann.append(dict(xref="paper", yref="paper", x=fx(2), y=fy(331), xanchor="left", yanchor="middle",
                text=macd_title, showarrow=False, font=small))
ann.append(dict(xref="paper", yref="paper", x=fx(2), y=fy(400), xanchor="left", yanchor="middle",
                text=rsi_title, showarrow=False, font=small))
ann.append(dict(xref="paper", yref="paper", x=fx(2), y=fy(476), xanchor="left", yanchor="middle",
                text=stoch_title, showarrow=False, font=small))
for yr, shift_top, shift_bot in [("y3", -3.5, 3.5), ("y4", -2, 3.5)]:
    ann.append(dict(xref="paper", yref=yr, x=fx(1003), y=100, xanchor="left", yanchor="middle", yshift=shift_top,
                    text="100", showarrow=False, font=dict(family=FONT, size=5.6, color="#202020")))
    ann.append(dict(xref="paper", yref=yr, x=fx(1003), y=0, xanchor="left", yanchor="middle", yshift=shift_bot,
                    text="0", showarrow=False, font=dict(family=FONT, size=5.6, color="#202020")))
for val in [cursor_price, last_price]:
    ann.append(dict(xref="paper", yref="y", x=fx(1000.5), y=val, xanchor="left", yanchor="middle",
                    text=f"{val:.3f}", showarrow=False, bgcolor="#000", borderpad=1,
                    font=dict(family=FONT, size=5.6, color="white")))
ann.append(dict(xref="paper", yref="paper", x=fx(820), y=fy(535), xanchor="center", yanchor="middle",
                text=cursor_time_label, showarrow=False, bgcolor="#000", borderpad=1,
                font=dict(family=FONT, size=5.6, color="white")))
ann.append(dict(xref="paper", yref="paper", x=fx(859), y=fy(37), xanchor="left", yanchor="top", align="left",
                text="<br>".join(note_lines), showarrow=False,
                font=dict(family=FONT, size=9.5, color="#ff1e1e")))
fig.update_layout(annotations=ann)

fig.write_html("out.html", config={"displayModeBar": False},
               post_script="document.body.style.margin='0px';document.body.style.padding='0px';")
